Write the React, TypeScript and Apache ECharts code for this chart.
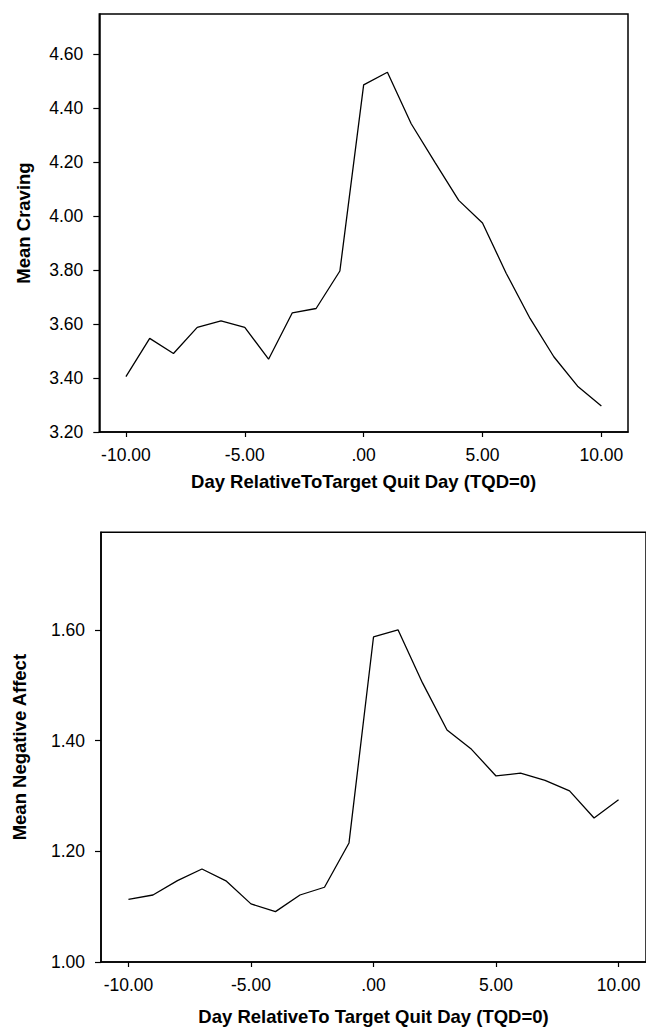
import React, { useEffect, useRef } from "react";
import * as echarts from "echarts";

const days = [-10, -9, -8, -7, -6, -5, -4, -3, -2, -1, 0, 1, 2, 3, 4, 5, 6, 7, 8, 9, 10];
const cravingValues = [3.405, 3.547, 3.491, 3.588, 3.612, 3.588, 3.47, 3.642, 3.658, 3.797, 4.487, 4.534, 4.343, 4.2, 4.059, 3.975, 3.788, 3.621, 3.479, 3.37, 3.296];
const negAffectValues = [1.113, 1.121, 1.147, 1.168, 1.146, 1.105, 1.091, 1.121, 1.135, 1.215, 1.587, 1.6, 1.504, 1.419, 1.384, 1.336, 1.341, 1.328, 1.309, 1.26, 1.293];
const xTicks = [-10, -5, 0, 5, 10];
const cravingTicks = [3.2, 3.4, 3.6, 3.8, 4.0, 4.2, 4.4, 4.6];
const negAffectTicks = [1.0, 1.2, 1.4, 1.6];
const topXTitle = "Day RelativeToTarget Quit Day (TQD=0)";
const bottomXTitle = "Day RelativeTo Target Quit Day (TQD=0)";
const topYTitle = "Mean Craving";
const bottomYTitle = "Mean Negative Affect";

const FONT = "'Liberation Sans', Arial, sans-serif";

const fmt = (v: number) => {
  const s = v.toFixed(2);
  if (s === "0.00") return ".00";
  return s;
};

export default function App() {
  const ref = useRef<HTMLDivElement>(null);
  useEffect(() => {
    if (!ref.current) return;
    const chart = echarts.init(ref.current, undefined, { renderer: "svg" });
    const axisLine = { show: true, onZero: false, lineStyle: { color: "#000", width: 1.5 } };
    const labelStyle = { color: "#000", fontSize: 17.5, fontFamily: FONT };
    const nameStyle = { color: "#000", fontSize: 18.5, fontWeight: "bold" as const, fontFamily: FONT };
    const xAxisBase = (gridIndex: number, name: string, gap: number) => ({
      type: "value" as const,
      gridIndex,
      position: "bottom" as const,
      min: -11.12,
      max: 11.12,
      name,
      nameLocation: "middle" as const,
      nameGap: gap,
      nameTextStyle: nameStyle,
      axisLine,
      axisTick: { show: true, length: 5, customValues: xTicks, lineStyle: { color: "#000", width: 1.2 } },
      axisLabel: { ...labelStyle, margin: 14, customValues: xTicks, formatter: (v: number) => fmt(v) },
      splitLine: { show: false },
    });
    const yAxisBase = (gridIndex: number, name: string, gap: number, min: number, max: number, ticks: number[]) => ({
      type: "value" as const,
      gridIndex,
      position: "left" as const,
      min,
      max,
      name,
      nameLocation: "middle" as const,
      nameGap: gap,
      nameTextStyle: nameStyle,
      axisLine,
      axisTick: { show: true, length: 6, customValues: ticks, lineStyle: { color: "#000", width: 1.2 } },
      axisLabel: { ...labelStyle, margin: 16, customValues: ticks, formatter: (v: number) => fmt(v) },
      splitLine: { show: false },
    });
    chart.setOption({
      animation: false,
      backgroundColor: "#fff",
      grid: [
        { left: 99.3, right: 18, top: 14, bottom: 595, show: true, borderColor: "#000", borderWidth: 1.5, backgroundColor: "transparent" },
        { left: 101, right: -3, top: 532.3, bottom: 63.7, show: true, borderColor: "#000", borderWidth: 1.5, backgroundColor: "transparent" },
      ],
      xAxis: [xAxisBase(0, topXTitle, 40), xAxisBase(1, bottomXTitle, 45)],
      yAxis: [
        yAxisBase(0, topYTitle, 66, 3.2, 4.75, cravingTicks),
        yAxisBase(1, bottomYTitle, 72, 1.0, 1.776, negAffectTicks),
      ],
      series: [
        {
          type: "line",
          xAxisIndex: 0,
          yAxisIndex: 0,
          data: days.map((d, i) => [d, cravingValues[i]]),
          showSymbol: false,
          symbol: "none",
          lineStyle: { color: "#000", width: 1.3 },
        },
        {
          type: "line",
          xAxisIndex: 1,
          yAxisIndex: 1,
          data: days.map((d, i) => [d, negAffectValues[i]]),
          showSymbol: false,
          symbol: "none",
          lineStyle: { color: "#000", width: 1.3 },
        },
      ],
    });
    return () => chart.dispose();
  }, []);
  return (
    <div
      ref={ref}
      style={{ position: "absolute", left: 0, top: 0, width: 646, height: 1027, background: "#fff" }}
    />
  );
}
